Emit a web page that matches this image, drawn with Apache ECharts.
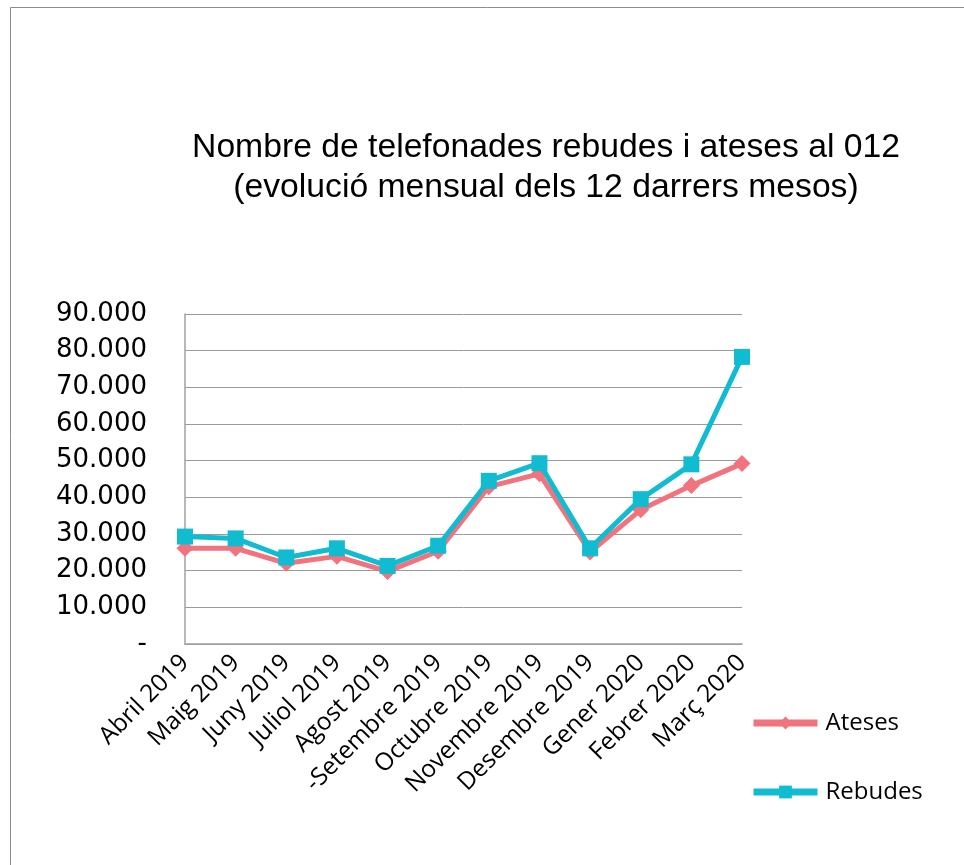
<!DOCTYPE html>
<html><head><meta charset="utf-8">
<script src="https://cdn.jsdelivr.net/npm/echarts@6/dist/echarts.min.js"></script>
<style>html,body{margin:0;padding:0;background:#fff}#c{width:964px;height:865px}</style>
</head><body><div id="c"></div>
<script>
const categories = ['Abril 2019','Maig 2019','Juny 2019','Juliol 2019','Agost 2019','-Setembre 2019','Octubre 2019','Novembre 2019','Desembre 2019','Gener 2020','Febrer 2020','Març 2020'];
const ateses = [26100, 26100, 22000, 23900, 19800, 25300, 42900, 46400, 25100, 36600, 43200, 49200];
const rebudes = [29300, 28800, 23600, 26100, 21300, 26800, 44500, 49300, 26100, 39500, 49000, 78300];
const yTicks = [0, 10000, 20000, 30000, 40000, 50000, 60000, 70000, 80000, 90000];

const chart = echarts.init(document.getElementById('c'));
chart.setOption({
  animation: false,
  backgroundColor: '#fff',
  graphic: [{
    type: 'rect', shape: {x: 10.5, y: 7.5, width: 1000, height: 1000},
    style: {fill: 'none', stroke: '#8c8c8c', lineWidth: 1}
  }],
  title: {
    text: 'Nombre de telefonades rebudes i ateses al 012\n(evolució mensual dels 12 darrers mesos)',
    left: 541, top: 123, textAlign: 'center',
    textStyle: {fontFamily: 'Liberation Sans', fontSize: 33.7, fontWeight: 'normal', color: '#000', lineHeight: 40}
  },
  legend: {
    orient: 'vertical', left: 745, top: 706, itemGap: 45,
    itemWidth: 64, itemHeight: 16,
    lineStyle: {width: 7},
    textStyle: {fontFamily: 'Open Sans', fontSize: 24, color: '#000', padding: [0, 0, 0, 3]},
    data: ['Ateses', 'Rebudes']
  },
  grid: {left: 185, right: 222, top: 314, bottom: 221, containLabel: false},
  xAxis: {
    type: 'category', data: categories, boundaryGap: false,
    axisLine: {lineStyle: {color: '#a0a0a0', width: 1.5}},
    axisTick: {show: false},
    axisLabel: {rotate: 45, fontFamily: 'Open Sans', fontSize: 24.5, color: '#000', margin: 15, interval: 0}
  },
  yAxis: {
    type: 'value', min: 0, max: 90000, interval: 10000,
    axisLine: {show: true, lineStyle: {color: '#a0a0a0', width: 1.5}},
    axisTick: {show: false},
    splitLine: {lineStyle: {color: '#9a9a9a', width: 1}},
    axisLabel: {
      fontFamily: 'DejaVu Sans', fontSize: 26, color: '#000', margin: 38,
      formatter: v => yTicks.includes(v) ? (v === 0 ? '-' : (v/1000) + '.000') : ''
    }
  },
  series: [
    {name: 'Ateses', type: 'line', data: ateses, symbol: 'diamond', symbolSize: 17,
     color: '#f1737e', lineStyle: {width: 5, color: '#f1737e'}, itemStyle: {color: '#f1737e'}, z: 2},
    {name: 'Rebudes', type: 'line', data: rebudes, symbol: 'rect', symbolSize: 16,
     color: '#12bcd0', lineStyle: {width: 5, color: '#12bcd0'}, itemStyle: {color: '#12bcd0'}, z: 3}
  ]
});
</script></body></html>
